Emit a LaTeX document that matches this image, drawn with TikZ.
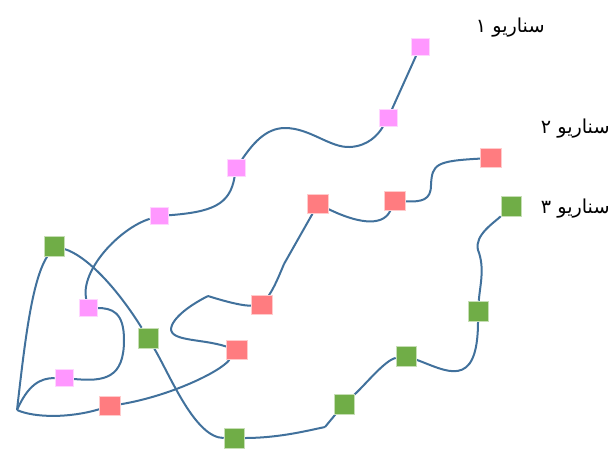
\documentclass[tikz,border=0pt]{standalone}
\usepackage{fontspec}
\newfontfamily\arabicfont[Script=Arabic]{DejaVu Sans}
\TeXXeTstate=1
\usetikzlibrary{backgrounds}

\definecolor{pathblue}{HTML}{41719C}
\definecolor{pinkbox}{HTML}{FF97FF}
\definecolor{redbox}{HTML}{FF7C80}
\definecolor{greenbox}{HTML}{70AD47}

\tikzset{
    route/.style={line width=1pt, pathblue},
    spink/.style={fill=pinkbox, draw=pinkbox!40!white, line width=0.3pt, minimum width=9pt, minimum height=8.5pt, inner sep=0pt},
    sred/.style={fill=redbox, draw=redbox!40!white, line width=0.3pt, minimum width=10.5pt, minimum height=9.5pt, inner sep=0pt},
    sgreen/.style={fill=greenbox, draw=greenbox!40!white, line width=0.3pt, minimum width=10pt, minimum height=10pt, inner sep=0pt},
    caption/.style={anchor=east, inner sep=0pt, font=\arabicfont\fontsize{9.6}{11}\selectfont},
}

\begin{document}
\begin{tikzpicture}[x=0.5pt, y=-0.5pt]
                    \useasboundingbox (0, 0) rectangle (613, 450);

                    \coordinate (S) at (17, 410);

                    \node[spink] (P1) at (64, 378) {};
                    \node[spink] (P2) at (88, 308) {};
                    \node[spink] (P3) at (159, 216) {};
                    \node[spink] (P4) at (236, 168) {};
                    \node[spink] (P5) at (388, 118) {};
                    \node[spink] (P6) at (420, 47) {};

                    \node[sred] (R1) at (110, 406) {};
                    \node[sred] (R2) at (237, 350) {};
                    \node[sred] (R3) at (262, 305) {};
                    \node[sred] (R4) at (318, 204) {};
                    \node[sred] (R5) at (395, 201) {};
                    \node[sred] (R6) at (491, 158) {};

                    \node[sgreen] (G1) at (54, 246) {};
                    \node[sgreen] (G2) at (148, 338) {};
                    \node[sgreen] (G3) at (234, 438) {};
                    \node[sgreen] (G4) at (344, 404) {};
                    \node[sgreen] (G5) at (406, 356) {};
                    \node[sgreen] (G6) at (478, 311) {};
                    \node[sgreen] (G7) at (511, 206) {};

                    \coordinate (K1) at (208, 296);
                    \coordinate (K2) at (284, 264);
                    \coordinate (K3) at (325, 427);

                    \begin{scope}[on background layer]
                    \draw[route] (S) .. controls (28, 385) and (40, 378) .. (P1);
                    \draw[route] (P1) .. controls (105, 382) and (124, 378) .. (124, 340)
                                      .. controls (124, 312) and (112, 308) .. (P2);
                    \draw[route] (P2) .. controls (80, 270) and (120, 228) .. (P3);
                    \draw[route] (P3) .. controls (212, 212) and (230, 205) .. (P4);
                    \draw[route] (P4) .. controls (252, 145) and (265, 128) .. (285, 128)
                                      .. controls (310, 128) and (330, 148) .. (350, 147)
                                      .. controls (368, 146) and (378, 135) .. (P5);
                    \draw[route] (P5) -- (P6);

                    \draw[route] (S) .. controls (35, 418) and (70, 418) .. (R1);
                    \draw[route] (R1) .. controls (170, 396) and (220, 372) .. (R2);
                    \draw[route] (R2) .. controls (200, 338) and (165, 342) .. (172, 325)
                                      .. controls (178, 312) and (200, 300) .. (K1);
                    \draw[route] (K1) .. controls (230, 303) and (245, 306) .. (R3);
                    \draw[route] (R3) .. controls (274, 288) and (279, 276) .. (K2);
                    \draw[route] (K2) -- (R4);
                    \draw[route] (R4) .. controls (355, 222) and (382, 228) .. (R5);
                    \draw[route] (R5) .. controls (422, 202) and (431, 200) .. (431, 185)
                                      .. controls (432, 164) and (436, 161) .. (R6);

                    \draw[route] (S) .. controls (25, 340) and (32, 280) .. (G1);
                    \draw[route] (G1) .. controls (85, 255) and (115, 285) .. (G2);
                    \draw[route] (G2) .. controls (170, 375) and (195, 438) .. (G3);
                    \draw[route] (G3) .. controls (280, 438) and (310, 430) .. (K3);
                    \draw[route] (K3) -- (G4);
                    \draw[route] (G4) .. controls (365, 385) and (385, 360) .. (G5);
                    \draw[route] (G5) .. controls (445, 370) and (478, 392) .. (G6);
                    \draw[route] (G6) .. controls (480, 285) and (485, 268) .. (478, 250)
                                      .. controls (474, 235) and (495, 222) .. (G7);
                    \end{scope}

                    \node[caption] (L1) at (545, 28) {\beginR سناریو ۱\endR};
                    \node[caption] (L2) at (610, 129) {\beginR سناریو ۲\endR};
                    \node[caption] (L3) at (610, 209) {\beginR سناریو ۳\endR};

                \end{tikzpicture}
\end{document}
